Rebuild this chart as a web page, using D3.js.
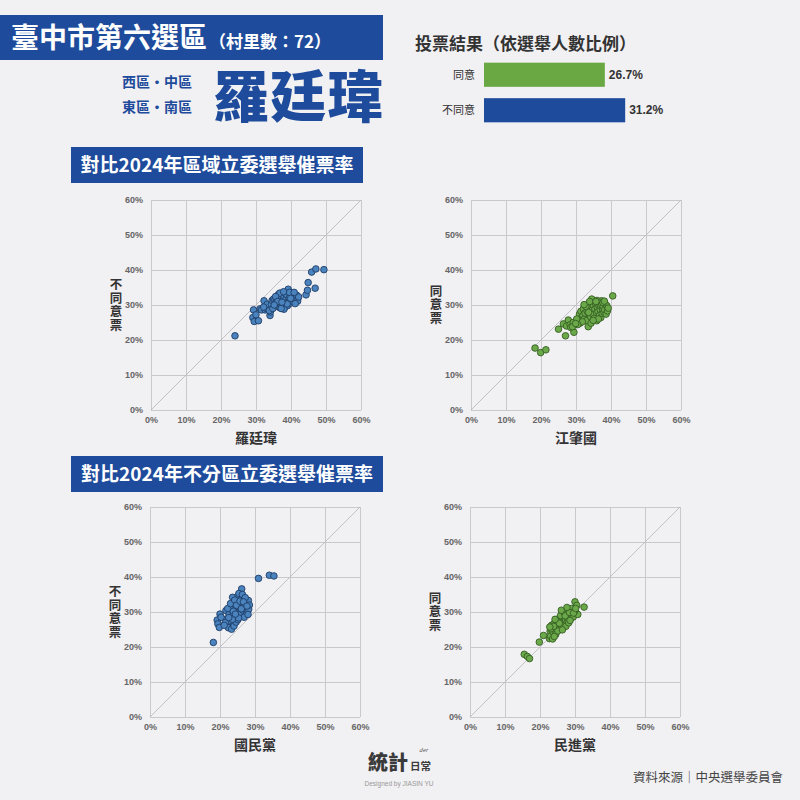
<!DOCTYPE html>
<meta charset="utf-8">
<script src="https://d3js.org/d3.v7.min.js"></script>
<style>
  body { margin: 0; background: #f1f0f3; }
  text { font-family: "Noto Sans CJK TC", "Noto Sans", sans-serif; }
</style>
<div id="chart"></div>
<script>
// ---- data ----
const voteCats = ["同意", "不同意"];
const voteVals = [26.7, 31.2];
const tickVals = [0, 10, 20, 30, 40, 50, 60];

// 羅廷瑋 vs 不同意票 (區域立委)
const luoVsNo = [
  [24.0,21.2],[29.3,28.6],[29.1,26.4],[29.5,25.3],[30.7,25.5],[30.0,27.2],[31.2,28.9],[31.6,28.6],[32.3,31.2],[32.6,28.6],
  [33.0,29.0],[33.5,29.3],[33.2,30.2],[34.0,27.0],[34.1,28.0],[34.4,30.2],[34.6,31.3],[35.0,31.7],[35.4,31.5],[35.8,30.8],
  [36.0,32.1],[36.4,33.0],[36.3,29.5],[36.6,30.5],[36.9,29.2],[37.0,31.8],[37.2,32.5],[37.5,33.1],[37.7,30.1],[37.8,31.2],
  [38.0,32.4],[38.2,29.3],[38.4,30.6],[38.6,31.8],[38.8,32.9],[39.0,29.8],[39.2,34.5],[39.3,31.2],[39.5,32.0],[39.8,30.5],
  [40.0,33.3],[40.2,31.6],[40.5,32.7],[40.8,30.8],[41.0,32.0],[41.3,31.3],[41.6,32.8],[41.9,31.1],[42.2,32.3],[36.8,33.4],
  [35.6,32.4],[37.9,33.8],[39.6,33.6],[38.0,28.8],[37.2,29.0],[33.8,28.4],[32.2,29.4],[34.8,29.0],[40.9,33.6],[41.2,30.4],
  [44.3,32.9],[44.7,34.2],[44.9,36.4],[46.9,34.8],[45.9,39.4],[47.1,40.3],[49.4,40.1],[36.2,31.0],[38.9,30.3],[35.2,30.0],
  [39.9,31.9],[37.4,30.8]
];
// 江肇國 vs 同意票 (區域立委)
const jiangVsYes = [
  [18.3,17.7],[19.9,16.4],[21.4,17.2],[25.0,23.1],[26.4,24.6],[27.0,21.2],[27.3,24.0],[27.8,25.7],[28.3,24.3],[28.5,23.6],
  [29.2,25.0],[29.4,22.2],[29.0,23.8],[31.1,24.8],[31.0,27.4],[31.4,28.2],[31.6,26.3],[32.0,27.0],[32.1,28.9],[32.4,26.0],
  [32.6,27.7],[33.0,25.5],[33.2,28.2],[33.5,23.8],[33.5,30.3],[33.8,27.2],[34.0,29.1],[34.2,26.6],[34.5,31.7],[34.6,28.5],
  [34.8,27.3],[35.0,29.9],[35.2,26.2],[35.4,28.8],[35.6,30.4],[35.9,25.5],[35.9,27.8],[36.1,29.3],[36.3,28.1],[36.5,30.0],
  [36.7,27.0],[36.9,28.7],[37.0,29.8],[37.1,26.4],[37.3,30.3],[37.3,31.2],[37.5,27.6],[37.6,28.9],[37.8,29.6],[38.0,27.9],
  [38.2,28.6],[38.4,30.2],[38.6,27.4],[38.8,29.8],[39.0,28.3],[39.2,29.1],[40.5,32.6],[32.8,29.6],[31.8,25.2],[30.5,24.4],
  [33.9,31.0],[36.0,31.3],[34.3,24.8],[35.7,31.0],[37.7,30.7],[38.1,31.1],[30.2,26.0],[29.9,24.7],[36.4,26.0],[34.9,25.6],
  [32.3,30.1],[33.6,27.9]
];
// 國民黨 vs 不同意票 (不分區)
const kmtVsNo = [
  [18.1,21.3],[19.2,27.7],[19.4,26.6],[19.8,25.6],[20.0,29.4],[21.7,30.4],[21.9,28.0],[22.1,26.6],[22.4,25.5],[22.6,29.4],
  [22.9,30.9],[23.1,27.3],[23.3,25.1],[23.6,34.2],[23.7,31.2],[23.9,29.7],[24.1,28.2],[24.3,32.1],[24.5,30.6],[24.8,28.5],
  [24.9,33.0],[25.0,31.5],[25.2,34.7],[25.3,30.0],[25.5,29.1],[25.6,32.4],[25.8,31.0],[25.9,33.6],[26.0,29.7],[26.2,36.6],
  [26.3,32.2],[26.5,30.6],[26.6,34.0],[26.8,31.6],[27.0,33.0],[27.1,29.9],[27.3,32.6],[27.4,31.0],[27.6,29.5],[27.8,30.6],
  [28.1,33.3],[28.2,30.8],[28.4,32.0],[22.8,27.5],[23.4,28.7],[24.0,26.0],[24.6,27.1],[21.5,27.0],[22.2,31.0],[23.0,32.4],
  [25.4,35.3],[26.4,35.0],[24.2,33.4],[25.1,27.8],[26.9,28.5],[23.8,30.2],[24.7,31.9],[25.7,33.1],[26.1,30.9],[27.2,34.1],
  [25.3,28.3],[23.5,27.9],[22.5,28.4],[24.4,29.4],[26.7,32.9],[27.7,31.7],[28.0,29.3],[21.2,26.2],[31.0,39.6],[34.1,40.5],
  [35.4,40.3],[20.3,28.5]
];
// 民進黨 vs 同意票 (不分區)
const dppVsYes = [
  [15.5,17.9],[16.4,17.3],[17.0,16.7],[19.8,21.4],[21.0,23.3],[22.7,22.4],[22.9,24.5],[23.0,23.1],[23.3,26.2],[23.5,25.3],
  [23.6,22.3],[23.8,24.2],[24.0,26.7],[24.2,25.0],[24.5,23.6],[24.8,26.7],[25.0,27.9],[25.2,25.6],[25.4,27.0],[25.6,28.3],
  [25.8,26.2],[26.0,27.5],[26.2,25.7],[26.3,28.9],[26.5,27.0],[26.7,29.3],[26.8,26.4],[27.0,28.2],[27.1,30.0],[27.3,27.4],
  [27.5,29.0],[27.6,26.8],[27.8,28.5],[28.0,29.7],[28.1,27.6],[28.3,30.4],[28.5,28.8],[28.7,29.6],[28.9,28.2],[29.1,30.1],
  [29.3,29.2],[29.5,28.6],[29.7,30.6],[30.0,32.9],[30.5,31.9],[30.4,29.6],[30.8,29.3],[32.6,31.4],[24.1,23.0],[25.1,24.6],
  [26.6,26.0],[27.4,25.9],[28.2,26.9],[23.1,25.2],[24.6,27.6],[25.9,29.0],[26.9,29.8],[27.9,30.8],[29.0,31.0],[29.9,30.3],
  [28.6,27.6],[26.4,24.9],[25.5,26.8],[24.3,27.9],[27.2,28.9],[28.4,29.9],[29.6,29.7],[23.9,25.9],[30.2,31.0],[26.1,30.5],
  [27.7,31.3],[22.8,25.7]
];

// ---- colours ----
const navy = "#1e4b9b";
const greenBar = "#6aa843";
const dark = "#333";

const svg = d3.select("#chart").append("svg")
  .attr("width", 800).attr("height", 800)
  .style("display", "block");

svg.append("rect").attr("width", 800).attr("height", 800).attr("fill", "#f1f0f3");

// ---- header ----
svg.append("rect").attr("x", 0).attr("y", 15).attr("width", 383).attr("height", 45).attr("fill", navy);
const ttl = svg.append("text").attr("x", 11).attr("y", 48).attr("fill", "#fff").attr("font-weight", 700);
ttl.append("tspan").attr("font-size", 28).text("臺中市第六選區");
ttl.append("tspan").attr("font-size", 17).attr("dx", 2).text("（村里數：72）");

svg.append("text").attr("x", 192).attr("y", 87).attr("text-anchor", "end")
  .attr("fill", navy).attr("font-size", 14).attr("font-weight", 700).text("西區・中區");
svg.append("text").attr("x", 192).attr("y", 112).attr("text-anchor", "end")
  .attr("fill", navy).attr("font-size", 14).attr("font-weight", 700).text("東區・南區");
svg.append("text").attr("x", 213).attr("y", 117)
  .attr("fill", navy).attr("font-size", 56).attr("font-weight", 900)
  .attr("textLength", 170).text("羅廷瑋");

// ---- vote result bars ----
svg.append("text").attr("x", 415).attr("y", 50).attr("fill", dark)
  .attr("font-size", 17).attr("font-weight", 700).text("投票結果（依選舉人數比例）");

const bx = d3.scaleLinear().domain([0, 40]).range([484, 665]);
const by = d3.scaleBand().domain(voteCats).range([57, 128]).paddingInner(0.32).paddingOuter(0.16);

svg.append("g").selectAll("rect").data(voteCats).join("rect")
  .attr("x", bx(0))
  .attr("y", d => by(d))
  .attr("width", (d, i) => bx(voteVals[i]) - bx(0))
  .attr("height", by.bandwidth())
  .attr("fill", (d, i) => i === 0 ? greenBar : navy);

svg.append("g").selectAll("text").data(voteCats).join("text")
  .attr("x", 475).attr("y", d => by(d) + by.bandwidth() / 2 + 4)
  .attr("text-anchor", "end").attr("font-size", 11).attr("fill", dark)
  .text(d => d);

svg.append("g").selectAll("text").data(voteVals).join("text")
  .attr("x", d => bx(d) + 4).attr("y", (d, i) => by(voteCats[i]) + by.bandwidth() / 2 + 4)
  .attr("font-size", 12).attr("font-weight", 700).attr("fill", dark)
  .style("font-family", "'Liberation Sans', Arial, sans-serif")
  .text(d => d.toFixed(1) + "%");

// ---- section banners ----
function banner(y, w, label) {
  svg.append("rect").attr("x", 71).attr("y", y).attr("width", w).attr("height", 36).attr("fill", navy);
  svg.append("text").attr("x", 71 + w / 2).attr("y", y + 25).attr("text-anchor", "middle")
    .attr("fill", "#fff").attr("font-size", 19).attr("font-weight", 700).text(label);
}
banner(147, 292, "對比2024年區域立委選舉催票率");
banner(456, 312, "對比2024年不分區立委選舉催票率");

// ---- scatter plots ----
const size = 210;
function scatter(left, top, pts, xTitle, yTitle, fill, stroke) {
  const g = svg.append("g").attr("transform", `translate(${left},${top})`);
  const x = d3.scaleLinear().domain([0, 60]).range([0, size]);
  const y = d3.scaleLinear().domain([0, 60]).range([size, 0]);

  const gx = g.append("g").attr("transform", `translate(0,${size})`)
    .call(d3.axisBottom(x).tickValues(tickVals).tickSize(-size).tickFormat(d => d + "%").tickPadding(7));
  const gy = g.append("g")
    .call(d3.axisLeft(y).tickValues(tickVals).tickSize(-size).tickFormat(d => d + "%").tickPadding(8));
  [gx, gy].forEach(a => {
    a.select(".domain").remove();
    a.selectAll("line").attr("stroke", "#c9c8cc").attr("stroke-width", 1);
    a.selectAll("text").attr("fill", "#666").attr("font-size", 9).attr("font-weight", 700)
      .style("font-family", "'Liberation Sans', Arial, sans-serif");
  });

  g.append("line")
    .attr("x1", x(0)).attr("y1", y(0)).attr("x2", x(60)).attr("y2", y(60))
    .attr("stroke", "#b5b4b8").attr("stroke-width", 0.8);

  g.append("g").selectAll("circle").data(pts).join("circle")
    .attr("cx", d => x(d[0])).attr("cy", d => y(d[1])).attr("r", 3.3)
    .attr("fill", fill).attr("stroke", stroke).attr("stroke-width", 0.9);

  g.append("text").attr("x", size / 2).attr("y", size + 33).attr("text-anchor", "middle")
    .attr("fill", dark).attr("font-size", 14).attr("font-weight", 700).text(xTitle);

  // vertical y title
  g.append("text")
    .attr("x", -35).attr("y", size / 2)
    .attr("text-anchor", "middle")
    .style("writing-mode", "vertical-rl")
    .style("letter-spacing", "1px")
    .attr("fill", dark).attr("font-size", 12.5).attr("font-weight", 700)
    .text(yTitle);
}

const blueFill = "#4a83bd", blueStroke = "#1f3d68";
const greenFill = "#6aa84a", greenStroke = "#355f22";
scatter(151, 200, luoVsNo, "羅廷瑋", "不同意票", blueFill, blueStroke);
scatter(471, 200, jiangVsYes, "江肇國", "同意票", greenFill, greenStroke);
scatter(150, 507, kmtVsNo, "國民黨", "不同意票", blueFill, blueStroke);
scatter(470, 507, dppVsYes, "民進黨", "同意票", greenFill, greenStroke);

// ---- footer ----
const logo = svg.append("g");
logo.append("text").attr("x", 368).attr("y", 770).attr("fill", "#3a3a3a")
  .attr("font-size", 20).attr("font-weight", 900).text("統計");
logo.append("text").attr("x", 419).attr("y", 752).attr("fill", "#555")
  .attr("font-size", 5.5).attr("font-style", "italic").text("der");
logo.append("text").attr("x", 410).attr("y", 770).attr("fill", "#3a3a3a")
  .attr("font-size", 10.5).attr("font-weight", 700).text("日常");
logo.append("text").attr("x", 399).attr("y", 786).attr("text-anchor", "middle").attr("fill", "#999")
  .attr("font-size", 6.5).style("font-family", "'Liberation Sans', Arial, sans-serif")
  .text("Designed by JIASIN YU");

svg.append("text").attr("x", 783).attr("y", 782).attr("text-anchor", "end")
  .attr("fill", "#444").attr("font-size", 12.5).text("資料來源｜中央選舉委員會");
</script>
